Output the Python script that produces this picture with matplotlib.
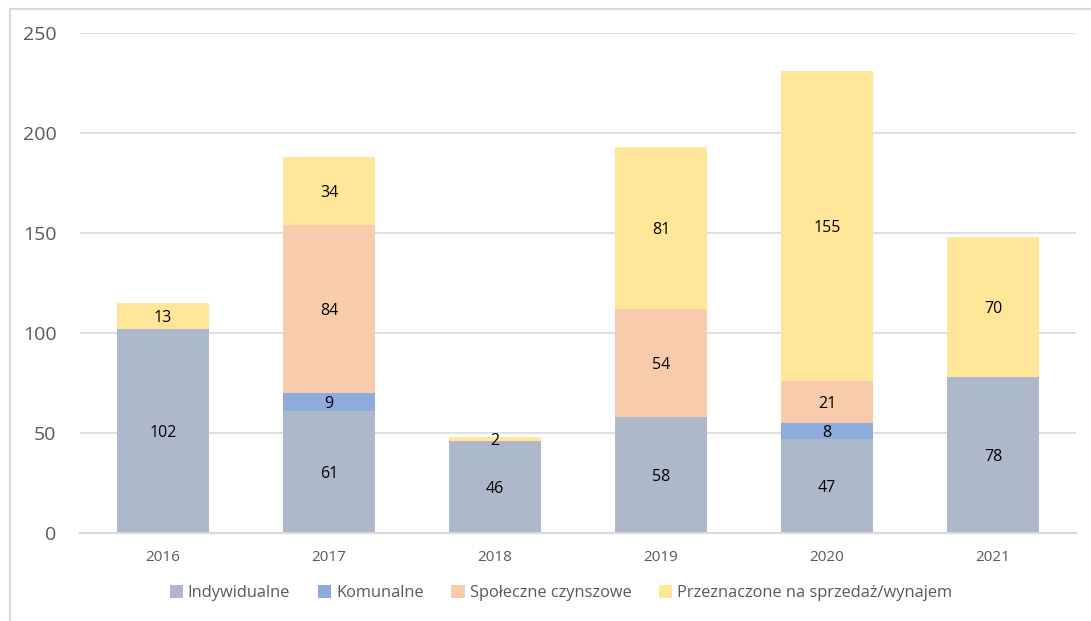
import numpy as np
import matplotlib
matplotlib.use("Agg")
from matplotlib import pyplot as plt

years = ["2016", "2017", "2018", "2019", "2020", "2021"]
indywidualne = [102, 61, 46, 58, 47, 78]
komunalne = [0, 9, 0, 0, 8, 0]
spoleczne = [0, 84, 0, 54, 21, 0]
sprzedaz = [13, 34, 2, 81, 155, 70]

series = [
    ("Indywidualne", indywidualne, "#ADB9CA"),
    ("Komunalne", komunalne, "#8FAADC"),
    ("Społeczne czynszowe", spoleczne, "#F8CBAD"),
    ("Przeznaczone na sprzedaż/wynajem", sprzedaz, "#FFE699"),
]

plt.rcParams['font.family'] = ['Open Sans', 'DejaVu Sans']

fig = plt.figure(figsize=(10.91, 6.21), dpi=100)
ax = fig.add_axes([80/1091, 88/621, 996/1091, 500/621])

x = np.arange(len(years))
bottom = np.zeros(len(years))
for name, vals, col in series:
    vals = np.array(vals, dtype=float)
    ax.bar(x, vals, 0.55, bottom=bottom, color=col, label=name, zorder=2)
    for xi, b, v in zip(x, bottom, vals):
        if v > 0:
            ax.text(xi, b + v/2, str(int(v)), ha="center", va="center_baseline",
                    fontsize=11.5, color="black", zorder=3)
    bottom += vals

ax.set_xlim(-0.5, len(years) - 0.5)
ax.set_ylim(0, 250)
ax.set_yticks(range(0, 251, 50))
ax.yaxis.grid(True, color="#D9D9D9", linewidth=1.2, zorder=0)
ax.set_axisbelow(True)
for s in ["top", "right", "left"]:
    ax.spines[s].set_visible(False)
ax.spines["bottom"].set_color("#D9D9D9")
ax.spines["bottom"].set_linewidth(1.5)
ax.tick_params(axis="both", length=0, colors="#595959")
ax.tick_params(axis="y", labelsize=14, pad=17)
ax.tick_params(axis="x", labelsize=11, pad=12)
ax.set_xticks(x)
ax.set_xticklabels(years)

ax.legend(loc="center", bbox_to_anchor=(561/1091, 28/621), bbox_transform=fig.transFigure,
          ncol=4, frameon=False, fontsize=11.8, handlelength=0.8, handleheight=0.8,
          columnspacing=1.7, handletextpad=0.3, labelcolor="#595959")

# chart border (cropped)
fig.add_artist(plt.Line2D([10/1091, 1], [1 - 9/621, 1 - 9/621], color="#D9D9D9", linewidth=1.5))
fig.add_artist(plt.Line2D([10/1091, 10/1091], [0, 1 - 9/621], color="#D9D9D9", linewidth=1.5))

fig.savefig("out.png", dpi=100)
